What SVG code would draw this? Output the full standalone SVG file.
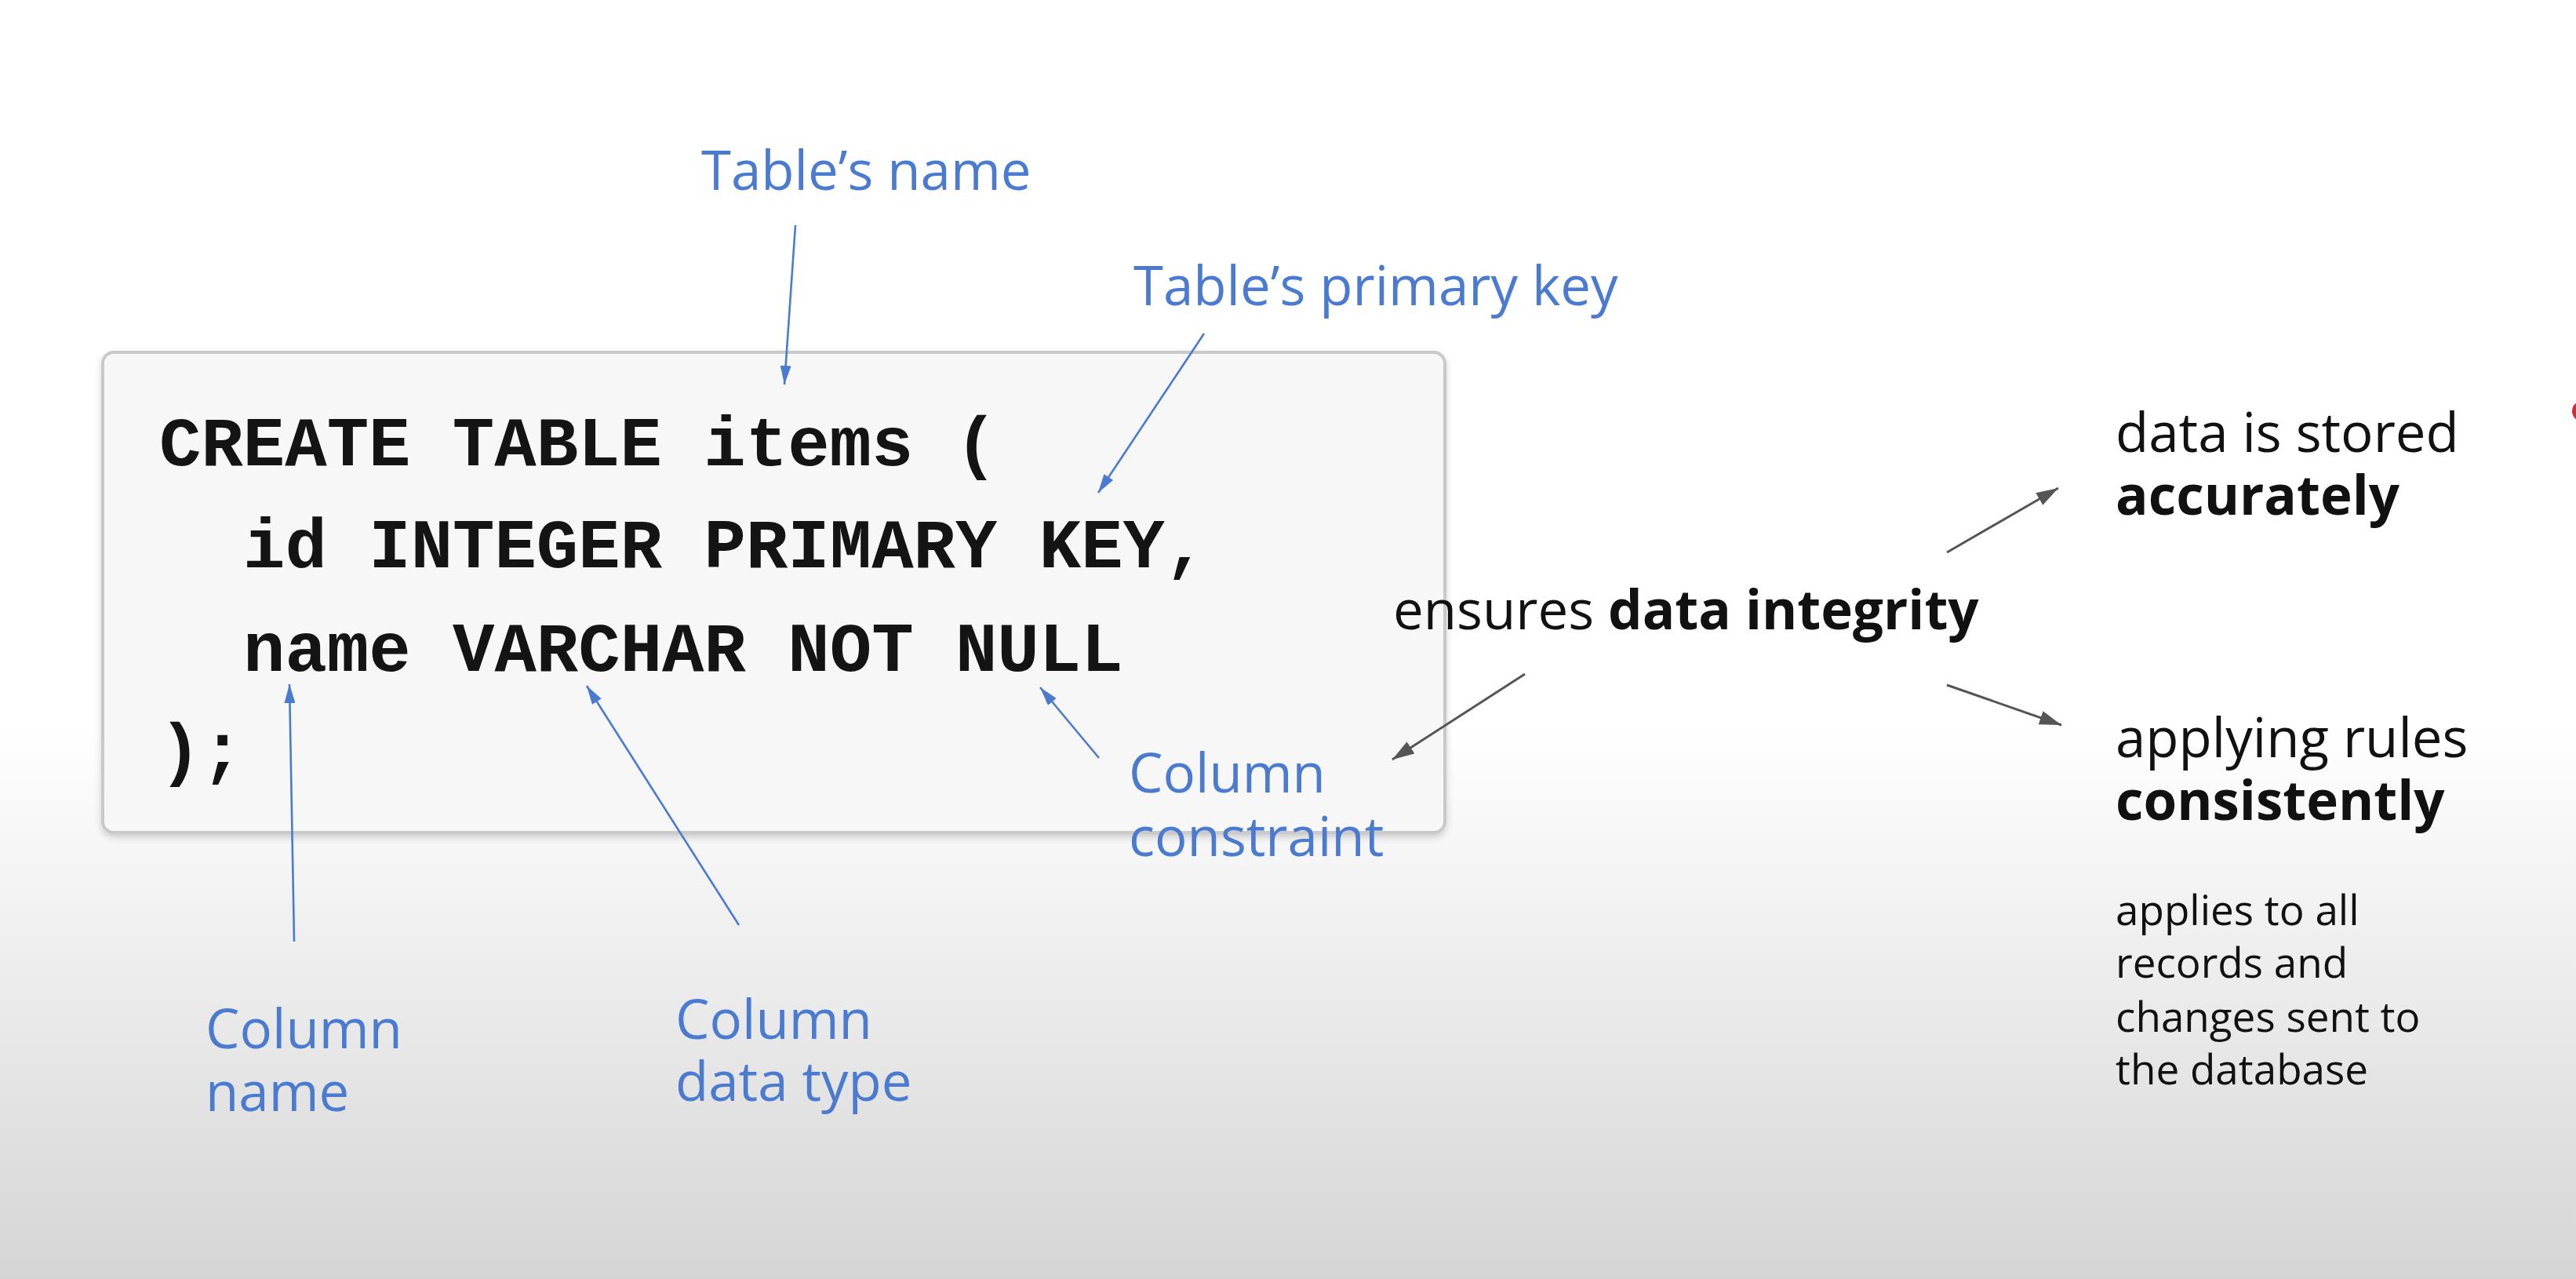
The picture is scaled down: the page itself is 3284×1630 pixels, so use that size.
<svg xmlns="http://www.w3.org/2000/svg" width="3284" height="1630" viewBox="0 0 3284 1630">
<style>
.code{font-family:"Liberation Mono","Courier New",monospace;font-weight:bold;font-size:89px;fill:#141414}
.lbl{font-family:"Open Sans","Noto Sans",sans-serif;font-size:69px;fill:#4a7bd0}
.txt{font-family:"Open Sans","Noto Sans",sans-serif;font-size:69px;fill:#111}
.b{font-weight:bold}
.small{font-family:"Open Sans","Noto Sans",sans-serif;font-size:53px;fill:#111}
.blue{stroke:#4a7bd0;stroke-width:2.6;fill:none;marker-end:url(#ab)}
.gray{stroke:#555;stroke-width:3;fill:none;marker-end:url(#ag)}
</style>
<defs>
<linearGradient id="bg" x1="0" y1="0" x2="0" y2="1">
<stop offset="0" stop-color="#ffffff"/>
<stop offset="0.57" stop-color="#ffffff"/>
<stop offset="0.8" stop-color="#e9e9e9"/>
<stop offset="1" stop-color="#d5d5d5"/>
</linearGradient>
<filter id="sh" x="-5%" y="-5%" width="110%" height="115%">
<feDropShadow dx="0" dy="4" stdDeviation="4" flood-color="#000" flood-opacity="0.18"/>
</filter>
<marker id="ab" viewBox="0 0 24 14" refX="24" refY="7" markerWidth="24" markerHeight="14" markerUnits="userSpaceOnUse" orient="auto">
<path d="M0,0 L24,7 L0,14 z" fill="#4a7bd0"/>
</marker>
<marker id="ag" viewBox="0 0 28 18" refX="28" refY="9" markerWidth="28" markerHeight="18" markerUnits="userSpaceOnUse" orient="auto">
<path d="M0,0 L28,9 L0,18 z" fill="#555"/>
</marker>
</defs>
<rect x="0" y="0" width="3284" height="1630" fill="url(#bg)"/>
<circle cx="3292" cy="524" r="13" fill="#d8283a"/>

<g id="code-box">
<rect x="131" y="449" width="1711" height="612" rx="14" fill="#f7f7f7" stroke="#c9c9c9" stroke-width="4" filter="url(#sh)"/>
<text class="code" x="203" y="593">CREATE TABLE items (</text>
<text class="code" x="310" y="723">id INTEGER PRIMARY KEY,</text>
<text class="code" x="310" y="855">name VARCHAR NOT NULL</text>
<text class="code" x="203" y="984">);</text>
</g>

<g id="label-table-name"><text class="lbl" x="894" y="242">Table’s name</text></g>
<g id="label-primary-key"><text class="lbl" x="1445" y="389">Table’s primary key</text></g>
<g id="label-column-constraint">
<text class="lbl" x="1439" y="1010">Column</text>
<text class="lbl" x="1439" y="1091">constraint</text>
</g>
<g id="label-column-name">
<text class="lbl" x="262" y="1336">Column</text>
<text class="lbl" x="262" y="1416">name</text>
</g>
<g id="label-column-type">
<text class="lbl" x="861" y="1324">Column</text>
<text class="lbl" x="861" y="1403">data type</text>
</g>

<g id="ensures"><text class="txt" x="1776" y="802">ensures <tspan class="b">data integrity</tspan></text></g>
<g id="accurately">
<text class="txt" x="2697" y="576">data is stored</text>
<text class="txt b" x="2697" y="656">accurately</text>
</g>
<g id="consistently">
<text class="txt" x="2697" y="965">applying rules</text>
<text class="txt b" x="2697" y="1045">consistently</text>
</g>
<g id="note">
<text class="small" x="2697" y="1179">applies to all</text>
<text class="small" x="2697" y="1246">records and</text>
<text class="small" x="2697" y="1315">changes sent to</text>
<text class="small" x="2697" y="1382">the database</text>
</g>

<g id="connectors">
<line class="blue" x1="1014" y1="287" x2="1000" y2="490"/>
<line class="blue" x1="1535" y1="425" x2="1400" y2="628"/>
<line class="blue" x1="375" y1="1200" x2="369" y2="872"/>
<line class="blue" x1="942" y1="1179" x2="748" y2="874"/>
<line class="blue" x1="1401" y1="966" x2="1326" y2="876"/>
<line class="gray" x1="1944" y1="859" x2="1775" y2="968"/>
<line class="gray" x1="2482" y1="704" x2="2624" y2="622"/>
<line class="gray" x1="2482" y1="873" x2="2628" y2="924"/>
</g>
</svg>
